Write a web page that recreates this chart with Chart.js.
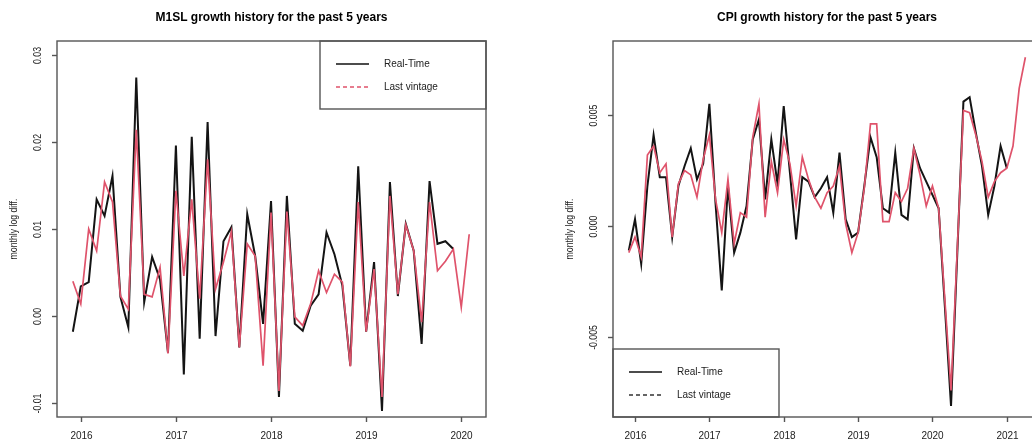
<!DOCTYPE html>
<html>
<head>
<meta charset="utf-8">
<title>M1SL / CPI growth</title>
<script src="https://cdn.jsdelivr.net/npm/chart.js@4.4.0/dist/chart.umd.min.js"></script>
<style>
  html, body { margin: 0; padding: 0; background: #fff; overflow: hidden; width: 1032px; height: 445px; }
  canvas { position: absolute; top: 0; }
  #m1slChart { left: 0; }
  #cpiChart { left: 515px; }
</style>
</head>
<body>
<canvas id="m1slChart" width="515" height="445"></canvas>
<canvas id="cpiChart" width="530" height="445"></canvas>
<script>
// both series are monthly, first observation Dec 2015
const START_YEAR = 2015;
const START_MONTH = 12;

const seriesNames = ['Real-Time', 'Last vintage'];

// M1SL monthly log diff
const m1slRealTime = [
  -0.0018, 0.0034, 0.0039, 0.0134, 0.0115, 0.0161, 0.0022, -0.0013, 0.0274, 0.0016,
  0.0068, 0.0042, -0.0042, 0.0196, -0.0067, 0.0206, -0.0026, 0.0223, -0.0023, 0.0086,
  0.0102, -0.0036, 0.0117, 0.0069, -0.0009, 0.0132, -0.0093, 0.0138, -0.0009, -0.0017,
  0.0012, 0.0025, 0.0096, 0.0071, 0.0035, -0.0057, 0.0172, -0.0018, 0.0062, -0.0109,
  0.0154, 0.0023, 0.0106, 0.0075, -0.0032, 0.0155, 0.0083, 0.0086, 0.0077
];
const m1slLastVintage = [
  0.0040, 0.0014, 0.0100, 0.0075, 0.0154, 0.0131, 0.0023, 0.0008, 0.0214, 0.0025,
  0.0022, 0.0056, -0.0043, 0.0144, 0.0046, 0.0134, 0.0020, 0.0180, 0.0031, 0.0062,
  0.0097, -0.0036, 0.0083, 0.0069, -0.0057, 0.0119, -0.0086, 0.0120, -0.0001, -0.0011,
  0.0014, 0.0052, 0.0027, 0.0048, 0.0039, -0.0058, 0.0131, -0.0018, 0.0054, -0.0093,
  0.0138, 0.0025, 0.0105, 0.0075, -0.0007, 0.0131, 0.0052, 0.0063, 0.0077, 0.0010,
  0.0094
];

// CPI monthly log diff
const cpiRealTime = [
  -0.0011, 0.0003, -0.0017, 0.0018, 0.0041, 0.0022, 0.0022, -0.0005, 0.0018, 0.0027,
  0.0035, 0.0021, 0.0028, 0.0055, 0.0010, -0.0029, 0.0018, -0.0012, -0.0003, 0.0009,
  0.0039, 0.0048, 0.0012, 0.0039, 0.0019, 0.0054, 0.0024, -0.0006, 0.0022, 0.0020,
  0.0013, 0.0017, 0.0022, 0.0006, 0.0033, 0.0003, -0.0005, -0.0003, 0.0018, 0.0040,
  0.0031, 0.0008, 0.0006, 0.0033, 0.0005, 0.0003, 0.0035, 0.0026, 0.0020, 0.0014,
  0.0008, -0.0036, -0.0081, -0.0013, 0.0056, 0.0058, 0.0042, 0.0027, 0.0005, 0.0018,
  0.0036, 0.0026
];
const cpiLastVintage = [
  -0.0012, -0.0005, -0.0014, 0.0032, 0.0036, 0.0024, 0.0028, -0.0005, 0.0019, 0.0025,
  0.0023, 0.0013, 0.0030, 0.0041, 0.0012, -0.0003, 0.0021, -0.0008, 0.0006, 0.0004,
  0.0040, 0.0055, 0.0004, 0.0029, 0.0015, 0.0039, 0.0028, 0.0009, 0.0031, 0.0021,
  0.0013, 0.0008, 0.0015, 0.0018, 0.0027, 0.0001, -0.0012, -0.0003, 0.0017, 0.0046,
  0.0046, 0.0002, 0.0002, 0.0015, 0.0011, 0.0017, 0.0035, 0.0023, 0.0009, 0.0018,
  0.0008, -0.0033, -0.0074, -0.0011, 0.0052, 0.0051, 0.0041, 0.0029, 0.0013, 0.0020,
  0.0024, 0.0026, 0.0036, 0.0062, 0.0076
];

// axis ticks
const m1slYears = [2016, 2017, 2018, 2019, 2020];
const cpiYears = [2016, 2017, 2018, 2019, 2020, 2021];
const m1slTicks = [-0.01, 0, 0.01, 0.02, 0.03];
const m1slTickLabels = ['-0.01', '0.00', '0.01', '0.02', '0.03'];
const cpiTicks = [-0.005, 0, 0.005];
const cpiTickLabels = ['-0.005', '0.000', '0.005'];

const FONT = '"Liberation Sans", Arial, Helvetica, sans-serif';
const TEXT_COLOR = '#222';
const FRAME_COLOR = '#555';
const RED = '#DF536B';

// month index -> decimal year (Jan = year + 0)
function toPoints(values) {
  return values.map((v, i) => {
    const m = START_MONTH - 1 + i;
    return { x: START_YEAR + m / 12, y: v };
  });
}

// base-graphics style frame: box, outward ticks, rotated y labels, title, legend
const rFrame = {
  id: 'rFrame',
  afterDraw(chart, args, opts) {
    const { ctx, chartArea: a } = chart;
    const xs = chart.scales.x;
    const ys = chart.scales.y;
    ctx.save();
    ctx.strokeStyle = FRAME_COLOR;
    ctx.lineWidth = 1.4;
    ctx.strokeRect(a.left, a.top, a.right - a.left, a.bottom - a.top);

    ctx.fillStyle = TEXT_COLOR;
    ctx.font = '10px ' + FONT;
    ctx.textAlign = 'center';
    ctx.textBaseline = 'middle';

    // x axis
    opts.years.forEach(yr => {
      const px = Math.round(xs.getPixelForValue(yr)) + 0.5;
      ctx.beginPath();
      ctx.moveTo(px, a.bottom);
      ctx.lineTo(px, a.bottom + 5);
      ctx.stroke();
      ctx.fillText(String(yr), px, a.bottom + 19);
    });

    // y axis, labels parallel to the axis
    opts.yTicks.forEach((v, k) => {
      const py = Math.round(ys.getPixelForValue(v)) + 0.5;
      ctx.beginPath();
      ctx.moveTo(a.left - 5, py);
      ctx.lineTo(a.left, py);
      ctx.stroke();
      ctx.save();
      ctx.translate(a.left - 19, py);
      ctx.rotate(-Math.PI / 2);
      ctx.scale(0.87, 1);
      ctx.fillText(opts.yLabels[k], 0, 0);
      ctx.restore();
    });

    // y title
    ctx.save();
    ctx.translate(a.left - 43, (a.top + a.bottom) / 2);
    ctx.rotate(-Math.PI / 2);
    ctx.scale(0.87, 1);
    ctx.font = '10px ' + FONT;
    ctx.fillText('monthly log diff.', 0, 0);
    ctx.restore();

    // main title
    ctx.font = 'bold 12px ' + FONT;
    ctx.fillStyle = '#000';
    ctx.fillText(opts.title, (a.left + a.right) / 2, 18);

    // legend box
    const bw = 166, bh = 68;
    const bx = opts.legendPos === 'topright' ? a.right - bw : a.left;
    const by = opts.legendPos === 'topright' ? a.top : a.bottom - bh;
    ctx.strokeStyle = FRAME_COLOR;
    ctx.lineWidth = 1.4;
    ctx.strokeRect(bx, by, bw, bh);
    ctx.font = '10px ' + FONT;
    ctx.textAlign = 'left';
    ctx.fillStyle = TEXT_COLOR;
    const styles = [
      { color: '#111', dash: [] },
      { color: opts.lastVintageKey, dash: [4, 3] }
    ];
    seriesNames.forEach((name, k) => {
      const ly = by + 23 + k * 23;
      ctx.beginPath();
      ctx.strokeStyle = styles[k].color;
      ctx.lineWidth = 1.6;
      ctx.setLineDash(styles[k].dash);
      ctx.moveTo(bx + 16, ly);
      ctx.lineTo(bx + 49, ly);
      ctx.stroke();
      ctx.setLineDash([]);
      ctx.fillText(name, bx + 64, ly);
    });
    ctx.restore();
  }
};

function makeChart(id, realTime, lastVintage, cfg) {
  return new Chart(document.getElementById(id), {
    type: 'line',
    data: {
      datasets: [
        { label: seriesNames[0], data: toPoints(realTime), borderColor: '#141414', borderWidth: 2, order: 2 },
        { label: seriesNames[1], data: toPoints(lastVintage), borderColor: RED, borderWidth: 1.7, order: 1 }
      ]
    },
    options: {
      responsive: false,
      animation: false,
      devicePixelRatio: 1,
      layout: { padding: cfg.padding },
      elements: { point: { radius: 0 }, line: { tension: 0, borderJoinStyle: 'miter' } },
      plugins: {
        legend: { display: false },
        tooltip: { enabled: false },
        rFrame: {
          title: cfg.title,
          years: cfg.years,
          yTicks: cfg.yTicks,
          yLabels: cfg.yLabels,
          legendPos: cfg.legendPos,
          lastVintageKey: cfg.lastVintageKey
        }
      },
      scales: {
        x: { type: 'linear', display: false, min: cfg.xMin, max: cfg.xMax },
        y: { type: 'linear', display: false, min: cfg.yMin, max: cfg.yMax }
      }
    },
    plugins: [rFrame]
  });
}

makeChart('m1slChart', m1slRealTime, m1slLastVintage, {
  title: 'M1SL growth history for the past 5 years',
  padding: { left: 57, top: 41, right: 29, bottom: 28 },
  xMin: 2015.75, xMax: 2020.26,
  yMin: -0.0116, yMax: 0.0316,
  years: m1slYears,
  yTicks: m1slTicks,
  yLabels: m1slTickLabels,
  legendPos: 'topright',
  lastVintageKey: RED
});

makeChart('cpiChart', cpiRealTime, cpiLastVintage, {
  title: 'CPI growth history for the past 5 years',
  padding: { left: 98, top: 41, right: 4, bottom: 28 },
  xMin: 2015.704, xMax: 2021.46,
  yMin: -0.0086, yMax: 0.00833,
  years: cpiYears,
  yTicks: cpiTicks,
  yLabels: cpiTickLabels,
  legendPos: 'bottomleft',
  lastVintageKey: '#333'
});
</script>
</body>
</html>
